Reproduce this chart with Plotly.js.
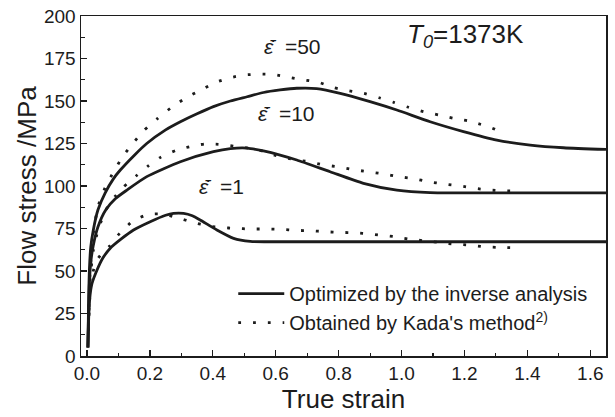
<!DOCTYPE html>
<html>
<head>
<meta charset="utf-8">
<script src="https://cdn.plot.ly/plotly-3.0.1.min.js"></script>
<style>html,body{margin:0;padding:0;background:#fff;}#chart{width:615px;height:417px;}</style>
</head>
<body>
<div id="chart"></div>
<script>
// Optimized by the inverse analysis (solid)
const optX50 = [0.003,0.005,0.008,0.012,0.02,0.035,0.058,0.085,0.106,0.15,0.19,0.25,0.297,0.35,0.402,0.456,0.509,0.561,0.614,0.667,0.73,0.805,0.9,0.985,1.091,1.197,1.303,1.409,1.515,1.65];
const optY50 = [5,30,52,64,74,86,96,104.5,109.4,118,125,133,137.8,142.5,146.7,150,152.5,155,156.5,157.5,157.3,154.5,149.6,144.7,137.8,132,127,124.1,122.5,121.5];
const optX10 = [0.003,0.005,0.008,0.012,0.02,0.035,0.06,0.09,0.127,0.19,0.297,0.402,0.456,0.509,0.561,0.614,0.667,0.773,0.879,0.985,1.091,1.2,1.65];
const optY10 = [5,25,44,55,65,76,86,92.5,97.6,105.5,114.3,120.2,122,122.3,120.6,118.2,115.3,108.4,101.6,97.6,96.1,96,96];
const optX1 = [0.003,0.005,0.008,0.012,0.016,0.032,0.05,0.074,0.11,0.148,0.201,0.25,0.275,0.307,0.335,0.36,0.413,0.466,0.519,0.6,1.65];
const optY1 = [5,20,32,39,42.7,50.6,57.5,63.4,69,74.1,79,82.8,83.9,83.9,82.5,80,74.1,69.2,67.4,67.2,67.2];

// Obtained by Kada's method (dotted)
const kadaX50 = [0.005,0.01,0.02,0.035,0.06,0.085,0.113,0.148,0.183,0.225,0.272,0.318,0.363,0.41,0.455,0.5,0.548,0.593,0.644,0.69,0.736,0.786,0.834,0.881,0.929,0.975,1.022,1.07,1.118,1.165,1.21,1.234,1.282,1.326];
const kadaY50 = [20,50,72,88,100,108.4,117.2,125.5,133,139.8,146.7,152.2,156.5,161,163.7,165.3,165.8,165.6,163.9,162.4,161,157.8,155.9,154.5,151.9,149.2,146.3,143.7,141.8,139.8,138.4,137.2,134.5,131];
const kadaX10 = [0.005,0.01,0.02,0.035,0.06,0.09,0.117,0.156,0.196,0.235,0.281,0.326,0.373,0.418,0.466,0.514,0.561,0.612,0.66,0.704,0.752,0.794,0.842,0.892,0.943,0.99,1.038,1.086,1.134,1.187,1.234,1.282,1.324,1.372];
const kadaY10 = [18,45,62,74,86,94,99.6,105.9,112,117,120.8,123.1,124.7,124.5,123.5,122.2,120.4,117.2,115.5,114.3,112.4,111.4,109.8,108.4,107.1,105.5,104.3,102.5,101.2,100,98.6,97.6,97.2,97];
const kadaX1 = [0.005,0.01,0.02,0.032,0.05,0.072,0.104,0.146,0.194,0.24,0.286,0.337,0.385,0.429,0.471,0.521,0.569,0.617,0.664,0.711,0.758,0.805,0.853,0.9,0.927,0.977,1.022,1.07,1.118,1.165,1.213,1.259,1.303,1.35];
const kadaY1 = [15,38,50,56.5,61,64.7,72.2,79.4,83.3,83.5,81.4,78.6,76.5,75.5,75.1,74.7,74.7,74.5,73.9,73.7,73.1,72.7,72.5,71.8,71.2,70.2,68.8,67.8,66.8,65.9,65.3,64.3,63.9,63.7];

const legendNames = ["Optimized by the inverse analysis", "Obtained by Kada's method<sup>2)</sup>"];
const rateLabels = ["=50", "=10", "=1"];
const tempLabel = "<i>T</i><sub><i>0</i></sub>=1373K";

const FONT = "Liberation Sans, Arial, Helvetica, sans-serif";
const INK = "#1c1c1c";

const solid = {color: INK, width: 2.8, shape: "spline", smoothing: 0.6};
const dotted = {color: INK, width: 2.8, dash: "2.8px,12px", shape: "spline", smoothing: 0.5};

const traces = [
  {x: optX50, y: optY50, mode: "lines", line: solid, name: legendNames[0], legendgroup: "opt", showlegend: true},
  {x: optX10, y: optY10, mode: "lines", line: solid, name: legendNames[0], legendgroup: "opt", showlegend: false},
  {x: optX1, y: optY1, mode: "lines", line: solid, name: legendNames[0], legendgroup: "opt", showlegend: false},
  {x: kadaX50, y: kadaY50, mode: "lines", line: dotted, name: legendNames[1], legendgroup: "kada", showlegend: true},
  {x: kadaX10, y: kadaY10, mode: "lines", line: dotted, name: legendNames[1], legendgroup: "kada", showlegend: false},
  {x: kadaX1, y: kadaY1, mode: "lines", line: dotted, name: legendNames[1], legendgroup: "kada", showlegend: false}
];

const epsText = (v) => "<i>ε̄̇</i>  " + v;

const layout = {
  width: 615, height: 417,
  margin: {l: 81, r: 9, t: 16, b: 61},
  paper_bgcolor: "#fff", plot_bgcolor: "#fff",
  font: {family: FONT, color: INK, size: 19},
  showlegend: true,
  legend: {x: 0.29, y: 0.241, xanchor: "left", yanchor: "top", bgcolor: "rgba(0,0,0,0)",
           font: {size: 20, family: FONT, color: INK}, itemwidth: 46, tracegroupgap: 0},
  xaxis: {
    range: [-0.019, 1.65], showline: true, mirror: true, linecolor: INK, linewidth: 1.5,
    ticks: "inside", ticklen: 6, tickwidth: 1.3, tickcolor: INK, dtick: 0.2, tick0: 0,
    tickformat: ".1f", showgrid: false, zeroline: false,
    minor: {ticks: "inside", ticklen: 3.5, tickwidth: 1.1, tickcolor: INK, dtick: 0.1, showgrid: false},
    tickfont: {size: 19, family: FONT, color: INK},
    title: {text: "True strain", font: {size: 26, family: FONT, color: INK}, standoff: 4}
  },
  yaxis: {
    range: [0, 200], showline: true, mirror: true, linecolor: INK, linewidth: 1.5,
    ticks: "inside", ticklen: 6, tickwidth: 1.3, tickcolor: INK, dtick: 25, tick0: 0,
    showgrid: false, zeroline: false,
    minor: {ticks: "inside", ticklen: 3.5, tickwidth: 1.1, tickcolor: INK, dtick: 12.5, showgrid: false},
    tickfont: {size: 19, family: FONT, color: INK},
    title: {text: "Flow stress /MPa", font: {size: 26, family: FONT, color: INK}, standoff: 0}
  },
  annotations: [
    {xref: "paper", yref: "paper", x: (262 - 81) / 525, y: (356 - 46) / 340, xanchor: "left", yanchor: "middle",
     text: epsText(rateLabels[0]), showarrow: false, font: {size: 21, family: FONT, color: INK}},
    {xref: "paper", yref: "paper", x: (256 - 81) / 525, y: (356 - 113) / 340, xanchor: "left", yanchor: "middle",
     text: epsText(rateLabels[1]), showarrow: false, font: {size: 21, family: FONT, color: INK}},
    {xref: "paper", yref: "paper", x: (197 - 81) / 525, y: (356 - 186) / 340, xanchor: "left", yanchor: "middle",
     text: epsText(rateLabels[2]), showarrow: false, font: {size: 21, family: FONT, color: INK}},
    {xref: "paper", yref: "paper", x: (405 - 81) / 525, y: (356 - 35) / 340, xanchor: "left", yanchor: "middle",
     text: tempLabel, showarrow: false, font: {size: 26, family: FONT, color: INK}}
  ]
};

Plotly.newPlot("chart", traces, layout, {displayModeBar: false, staticPlot: true});
</script>
</body>
</html>
